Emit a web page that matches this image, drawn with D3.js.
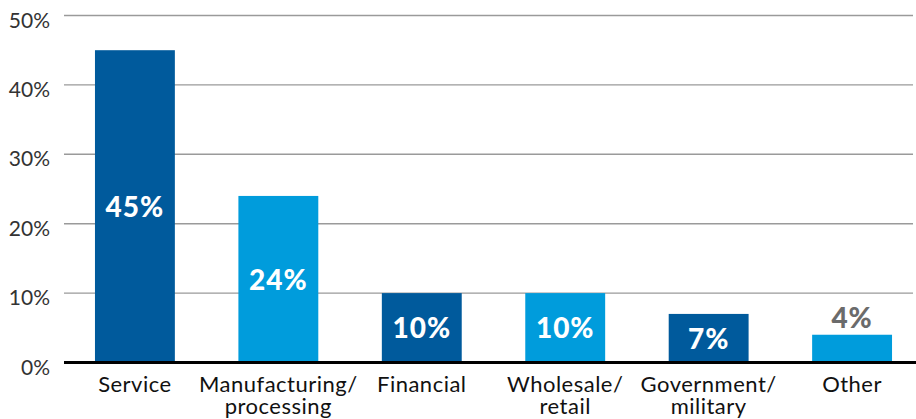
<!DOCTYPE html>
<html>
<head>
<meta charset="utf-8">
<script src="https://cdn.jsdelivr.net/npm/d3@7"></script>
<style>
  html, body { margin: 0; padding: 0; background: #fff; }
  svg { display: block; font-family: Lato, "Open Sans", sans-serif; }
</style>
</head>
<body>
<svg id="chart" width="916" height="419"></svg>
<script>
// Share of respondents by industry sector
const categories = [
  ["Service"],
  ["Manufacturing/", "processing"],
  ["Financial"],
  ["Wholesale/", "retail"],
  ["Government/", "military"],
  ["Other"]
];
const values = [45, 24, 10, 10, 7, 4];
const barColors = ["#005a9c", "#009cdc", "#005a9c", "#009cdc", "#005a9c", "#009cdc"];
const yTicks = [0, 10, 20, 30, 40, 50];

const svg = d3.select("#chart");
const left = 64, right = 913;

const x = d3.scaleBand()
  .domain(d3.range(values.length))
  .range([63.2, 923.8])
  .paddingInner(0.443)
  .paddingOuter(0.2215);

const y = d3.scaleLinear().domain([0, 50]).range([362.5, 15.5]);

// horizontal gridlines
svg.append("g")
  .selectAll("line")
  .data(yTicks.filter(d => d > 0))
  .join("line")
  .attr("x1", left).attr("x2", right)
  .attr("y1", d => y(d)).attr("y2", d => y(d))
  .attr("stroke", "#9a9a9a")
  .attr("stroke-width", 1.4);

// y-axis tick labels
svg.append("g")
  .selectAll("text")
  .data(yTicks)
  .join("text")
  .attr("x", 50)
  .attr("y", d => y(d) + 12)
  .attr("text-anchor", "end")
  .attr("font-size", 21)
  .attr("fill", "#333")
  .text(d => d + "%");

// bars
svg.append("g")
  .selectAll("rect")
  .data(values)
  .join("rect")
  .attr("x", (d, i) => x(i))
  .attr("width", x.bandwidth())
  .attr("y", d => y(d))
  .attr("height", d => y(0) - y(d))
  .attr("fill", (d, i) => barColors[i]);

// baseline
svg.append("line")
  .attr("x1", left).attr("x2", 916)
  .attr("y1", y(0)).attr("y2", y(0))
  .attr("stroke", "#000")
  .attr("stroke-width", 3);

// value labels: inside the bar when it fits, above it otherwise
svg.append("g")
  .selectAll("text")
  .data(values)
  .join("text")
  .attr("x", (d, i) => x(i) + x.bandwidth() / 2)
  .attr("y", d => d >= 6 ? (y(d) + y(0)) / 2 + 10.5 : y(d) - 7)
  .attr("text-anchor", "middle")
  .attr("font-size", 28)
  .attr("font-weight", 900)
  .attr("letter-spacing", 1)
  .attr("fill", d => d >= 6 ? "#fff" : "#6b6b6b")
  .text(d => d + "%");

// category labels, one text element per line
const lines = categories.flatMap((c, i) => c.map((t, j) => ({ i, j, t })));
svg.append("g")
  .selectAll("text")
  .data(lines)
  .join("text")
  .attr("x", d => x(d.i) + x.bandwidth() / 2)
  .attr("y", d => 392 + d.j * 22)
  .attr("text-anchor", "middle")
  .attr("font-size", 22)
  .attr("letter-spacing", 0.5)
  .attr("fill", "#111")
  .text(d => d.t);
</script>
</body>
</html>
